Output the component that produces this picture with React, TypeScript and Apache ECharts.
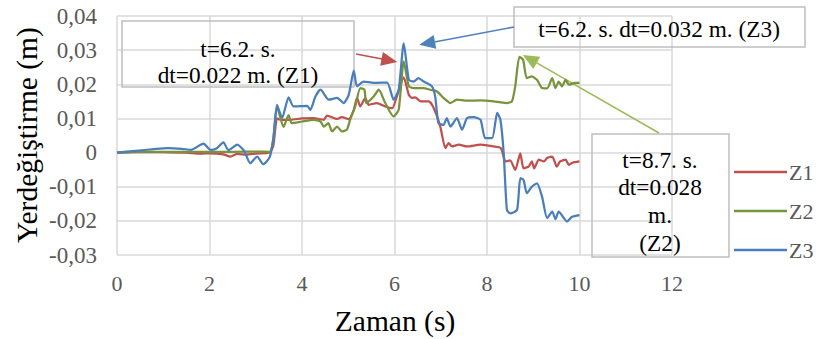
import React, { useEffect, useRef } from "react";
import * as echarts from "echarts";

// Displacement records (time in s, displacement in m)
const z1: [number, number][] = [
  [0, 0], [0.5, 0.0002], [1.0, 0.0001], [1.5, 0], [1.8, -0.0003], [2.0, -0.0002], [2.3, -0.0005],
  [2.45, -0.0012], [2.6, -0.0004], [2.8, -0.0006], [3.0, -0.0003], [3.3, 0], [3.38, 0.002],
  [3.46, 0.01], [3.53, 0.0096], [3.75, 0.0096], [4.0, 0.01], [4.25, 0.0101], [4.47, 0.0096],
  [4.54, 0.0108], [4.76, 0.0098], [4.86, 0.0104], [5.01, 0.0098], [5.12, 0.0125], [5.19, 0.016],
  [5.26, 0.0135], [5.37, 0.016], [5.44, 0.014], [5.62, 0.0145], [5.8, 0.0135], [5.95, 0.013],
  [6.05, 0.0164], [6.2, 0.022], [6.31, 0.0169], [6.38, 0.016], [6.45, 0.0162], [6.56, 0.015],
  [6.74, 0.015], [6.85, 0.013], [6.99, 0.0076], [7.1, 0.0013], [7.17, 0.0028], [7.24, 0.0018],
  [7.39, 0.0023], [7.57, 0.0018], [7.86, 0.0023], [8.14, 0.0018], [8.3, 0.0013], [8.4, -0.0026],
  [8.5, -0.0023], [8.61, -0.0051], [8.72, -0.0002], [8.79, -0.0046], [8.9, -0.0041],
  [8.97, -0.0026], [9.02, -0.0046], [9.12, -0.0021], [9.23, -0.0026], [9.3, -0.0016],
  [9.41, -0.0012], [9.51, -0.0041], [9.58, -0.0026], [9.7, -0.0021], [9.77, -0.0036],
  [9.84, -0.003], [10, -0.0026],
];

const z2: [number, number][] = [
  [0, 0], [0.5, 0.0002], [1.0, 0.0002], [1.5, 0.0002], [2.0, 0.0002], [2.5, 0.0002],
  [3.0, 0.0003], [3.3, 0.0002], [3.38, 0.004], [3.46, 0.0135], [3.6, 0.0075], [3.71, 0.011],
  [3.78, 0.0086], [4.0, 0.0091], [4.25, 0.0096], [4.4, 0.0091], [4.47, 0.0076], [4.57, 0.0086],
  [4.65, 0.0062], [4.76, 0.0076], [4.86, 0.0062], [4.97, 0.0067], [5.04, 0.0096], [5.15, 0.0135],
  [5.26, 0.0189], [5.35, 0.0184], [5.39, 0.0145], [5.55, 0.0164], [5.66, 0.0184], [5.8, 0.0145],
  [5.98, 0.0106], [6.09, 0.0125], [6.2, 0.0267], [6.31, 0.0194], [6.41, 0.0189], [6.63, 0.0189],
  [6.77, 0.0184], [6.92, 0.0179], [7.06, 0.016], [7.21, 0.0145], [7.35, 0.0155], [7.57, 0.0152],
  [7.86, 0.0153], [8.14, 0.015], [8.29, 0.0147], [8.43, 0.0145], [8.54, 0.015], [8.61, 0.0194],
  [8.7, 0.028], [8.78, 0.0272], [8.86, 0.0218], [8.97, 0.0223], [9.08, 0.0213], [9.19, 0.0189],
  [9.3, 0.0188], [9.41, 0.0218], [9.48, 0.0189], [9.55, 0.0208], [9.62, 0.0194], [9.7, 0.0213],
  [9.77, 0.0199], [9.91, 0.0204], [10, 0.0204],
];

const z3: [number, number][] = [
  [0, 0], [0.4, 0.0005], [0.8, 0.001], [1.1, 0.0013], [1.4, 0.0011], [1.6, 0.0008], [1.87, 0.0026],
  [2.02, 0.0008], [2.15, 0.0012], [2.3, 0.003], [2.41, 0.0007], [2.6, 0.0023], [2.75, 0.0005],
  [2.88, -0.0031], [3.03, -0.0012], [3.16, -0.0034], [3.3, -0.0014], [3.38, 0.004], [3.46, 0.014],
  [3.57, 0.0101], [3.71, 0.0162], [3.82, 0.0135], [4.11, 0.0137], [4.18, 0.0125], [4.29, 0.0164],
  [4.4, 0.0184], [4.58, 0.0155], [4.76, 0.016], [4.9, 0.0145], [5.01, 0.0169], [5.12, 0.024],
  [5.19, 0.0194], [5.33, 0.0208], [5.55, 0.0204], [5.84, 0.0205], [5.98, 0.0155], [6.09, 0.0184],
  [6.2, 0.032], [6.31, 0.0213], [6.41, 0.0208], [6.52, 0.0218], [6.63, 0.0208], [6.81, 0.0194],
  [6.88, 0.0164], [6.95, 0.0086], [7.06, 0.0081], [7.13, 0.0101], [7.21, 0.0076], [7.35, 0.0101],
  [7.46, 0.0067], [7.57, 0.0101], [7.71, 0.0104], [7.86, 0.0096], [7.96, 0.0042], [8.11, 0.0042],
  [8.22, 0.0116], [8.29, 0.0096], [8.36, 0], [8.43, -0.0168], [8.5, -0.0178], [8.65, -0.0168],
  [8.72, -0.0075], [8.79, -0.008], [8.86, -0.0119], [8.97, -0.01], [9.08, -0.009], [9.19, -0.0129],
  [9.3, -0.0192], [9.41, -0.0173], [9.48, -0.0195], [9.55, -0.0173], [9.73, -0.0202],
  [9.84, -0.0188], [10, -0.0183],
];

const seriesNames = ["Z1", "Z2", "Z3"];
const seriesColors = ["#C0504D", "#77933C", "#4A7EBB"];

// Peak callouts: [t, displacement] that each arrow points at
const peakZ1: [number, number] = [6.2, 0.022];
const peakZ3: [number, number] = [6.2, 0.032];
const peakZ2: [number, number] = [8.7, 0.028];

const SERIF = "Liberation Serif";

function arrow(
  tail: [number, number],
  head: [number, number],
  color: string,
  headLen = 16,
  headWidth = 14
): any[] {
  const dx = head[0] - tail[0];
  const dy = head[1] - tail[1];
  const len = Math.hypot(dx, dy);
  const ux = dx / len;
  const uy = dy / len;
  const bx = head[0] - ux * headLen;
  const by = head[1] - uy * headLen;
  const px = -uy * (headWidth / 2);
  const py = ux * (headWidth / 2);
  return [
    {
      type: "line",
      shape: { x1: tail[0], y1: tail[1], x2: bx + ux * 2, y2: by + uy * 2 },
      style: { stroke: color, lineWidth: 1.5 },
    },
    {
      type: "polygon",
      shape: { points: [head, [bx + px, by + py], [bx - px, by - py]] },
      style: { fill: color },
    },
  ];
}

function box(x: number, y: number, w: number, h: number): any {
  return {
    type: "rect",
    shape: { x, y, width: w, height: h },
    style: { fill: "none", stroke: "#BFBFBF", lineWidth: 1.5 },
  };
}

function label(text: string, x: number, y: number, size = 23.3, rotation = 0): any {
  return {
    type: "text",
    x,
    y,
    rotation,
    style: {
      text,
      fill: "#000000",
      font: `${size}px ${SERIF}`,
      align: "center",
      verticalAlign: "middle",
    },
  };
}

export default function App() {
  const ref = useRef<HTMLDivElement>(null);

  useEffect(() => {
    if (!ref.current) return;
    const chart = echarts.init(ref.current, undefined, { renderer: "svg" });
    const gridColor = "#D9D9D9";
    const legendTops = [161, 200, 239];

    chart.setOption({
      animation: false,
      grid: { left: 117, top: 16, width: 555, height: 239 },
      xAxis: {
        type: "value",
        min: 0,
        max: 12,
        interval: 2,
        axisLine: { show: false, onZero: false },
        axisTick: { show: false },
        splitLine: { show: true, lineStyle: { color: gridColor, width: 1.5 } },
        axisLabel: { color: "#595959", fontFamily: SERIF, fontSize: 22, margin: 17 },
      },
      yAxis: {
        type: "value",
        min: -0.03,
        max: 0.04,
        interval: 0.01,
        axisLine: { show: false },
        axisTick: { show: false },
        splitLine: { show: true, lineStyle: { color: gridColor, width: 1.5 } },
        axisLabel: {
          color: "#595959",
          fontFamily: SERIF,
          fontSize: 23,
          margin: 20,
          formatter: (v: number) =>
            Math.abs(v) < 1e-9 ? "0" : v.toFixed(2).replace(".", ","),
        },
      },
      legend: seriesNames.map((name, i) => ({
        data: [name],
        left: 734,
        top: legendTops[i],
        padding: 0,
        icon: "rect",
        itemWidth: 53,
        itemHeight: 2.5,
        selectedMode: false,
        textStyle: {
          color: "#595959",
          fontFamily: SERIF,
          fontSize: 22,
          padding: [0, 0, 0, -3],
        },
      })),
      series: [z1, z2, z3].map((data, i) => ({
        name: seriesNames[i],
        type: "line",
        data,
        symbol: "none",
        smooth: 0.2,
        lineStyle: { color: seriesColors[i], width: 2.25 },
        itemStyle: { color: seriesColors[i] },
        z: 2 + i,
      })),
    });

    const px = (p: [number, number]) =>
      chart.convertToPixel({ gridIndex: 0 }, p) as number[];
    const p1 = px(peakZ1);
    const p3 = px(peakZ3);
    const p2 = px(peakZ2);

    chart.setOption({
      graphic: [
        // axis titles
        label("Zaman (s)", 395, 321, 29.5),
        label("Yerdeğiştirme (m)", 27, 135, 29.5, Math.PI / 2),
        // Z1 callout
        box(122, 21, 232, 66),
        label("t=6.2. s.", 238, 49),
        label("dt=0.022 m. (Z1)", 238, 75),
        ...arrow([356, 54], [p1[0] - 6.5, p1[1] - 15.5], "#C0504D"),
        // Z3 callout
        box(514, 7, 291, 40),
        label("t=6.2. s. dt=0.032 m. (Z3)", 659, 29),
        ...arrow([514, 27], [p3[0] + 15.5, p3[1] + 1.5], "#4F81BD"),
        // Z2 callout
        box(592, 134, 137, 123),
        label("t=8.7. s.", 660, 160),
        label("dt=0.028", 660, 187),
        label("m.", 660, 215),
        label("(Z2)", 660, 243),
        ...arrow([659, 133], [p2[0] + 3.5, p2[1] - 2], "#9BBB59"),
      ],
    });

    return () => chart.dispose();
  }, []);

  return (
    <div
      ref={ref}
      style={{ position: "fixed", left: 0, top: 0, width: 816, height: 339, background: "#fff" }}
    />
  );
}
